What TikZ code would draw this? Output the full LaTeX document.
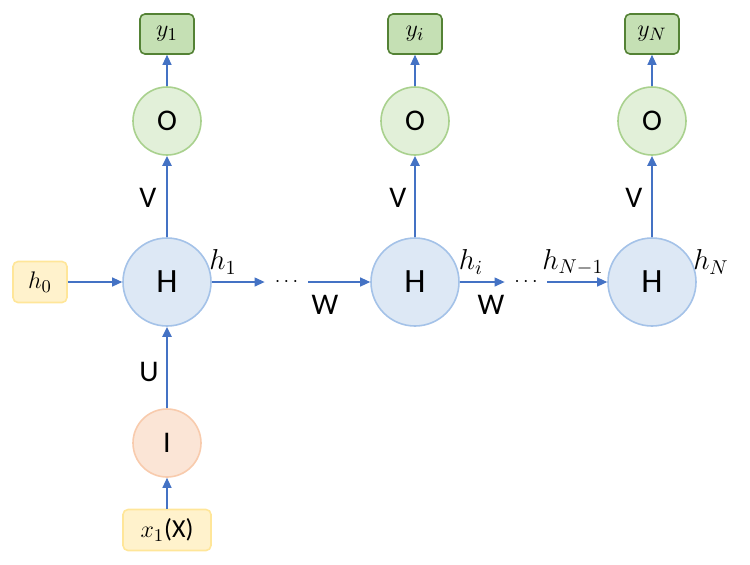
\documentclass[tikz,border=0pt]{standalone}
\usepackage{fontspec}
\setmainfont{Carlito}
\usetikzlibrary{arrows.meta}

\definecolor{hfill}{HTML}{DDE8F5}
\definecolor{hdraw}{HTML}{A4C2E8}
\definecolor{ofill}{HTML}{E2F0D9}
\definecolor{odraw}{HTML}{A9D18E}
\definecolor{yfill}{HTML}{C5E0B4}
\definecolor{ydraw}{HTML}{548235}
\definecolor{infill}{HTML}{FFF2CC}
\definecolor{indraw}{HTML}{FFE699}
\definecolor{ifill}{HTML}{FBE5D6}
\definecolor{idraw}{HTML}{F8CBAD}
\definecolor{arr}{HTML}{4472C4}

\begin{document}
\begin{tikzpicture}[x=0.5pt,y=-0.5pt,
    hid/.style={circle,draw=hdraw,fill=hfill,line width=0.8pt,minimum size=44pt,inner sep=0pt,font=\fontsize{17}{20}\selectfont},
    outc/.style={circle,draw=odraw,fill=ofill,line width=0.8pt,minimum size=34pt,inner sep=0pt,font=\fontsize{15}{18}\selectfont},
    inc/.style={circle,draw=idraw,fill=ifill,line width=0.8pt,minimum size=34pt,inner sep=0pt,font=\fontsize{15}{18}\selectfont},
    ybox/.style={rectangle,rounded corners=2.5pt,draw=ydraw,fill=yfill,line width=0.8pt,minimum width=27pt,minimum height=20pt,inner sep=0pt,font=\fontsize{13}{15}\selectfont},
    xbox/.style={rectangle,rounded corners=2.5pt,draw=indraw,fill=infill,line width=0.8pt,minimum height=20.5pt,inner sep=0pt,font=\fontsize{13}{15}\selectfont},
    wlabel/.style={font=\fontsize{15}{18}\selectfont,inner sep=0pt},
    hlabel/.style={font=\fontsize{14}{16}\selectfont,inner sep=0pt},
    dotsn/.style={minimum height=10pt,inner sep=0pt,font=\fontsize{10}{12}\selectfont},
    thinarr/.style={draw=arr,line width=0.6pt,-{Triangle[length=5pt,width=4.5pt]}},
    thickarr/.style={draw=arr,line width=1.1pt,-{Triangle[length=5pt,width=4.5pt]}}]
    \useasboundingbox (0,0) rectangle (750,564);
    % hidden states
    \node[hid] (H1) at (167,282) {H};
    \node[hid] (Hi) at (415,282) {H};
    \node[hid] (HN) at (652,282) {H};
    % outputs
    \node[outc] (O1) at (167,121) {O};
    \node[outc] (Oi) at (415,121) {O};
    \node[outc] (ON) at (652,121) {O};
    \node[ybox] (y1) at (167,34) {$y_1$};
    \node[ybox] (yi) at (415,34) {$y_i$};
    \node[ybox] (yN) at (652,34) {$y_N$};
    % input
    \node[inc] (I1) at (167,443) {I};
    \node[xbox,minimum width=44pt] (x1) at (167,530) {$x_1$(X)};
    \node[xbox,minimum width=27pt] (h0) at (40,282) {$h_0$};
    % dots
    \node[dotsn,minimum width=21.5pt] (d1) at (286.5,282) {$\cdots$};
    \node[dotsn,minimum width=21pt] (d2) at (526,282) {$\cdots$};
    % arrows
    \draw[thinarr] (h0) -- (H1);
    \draw[thinarr] (H1) -- (d1);
    \draw[thinarr] (d1) -- (Hi);
    \draw[thinarr] (Hi) -- (d2);
    \draw[thinarr] (d2) -- (HN);
    \draw[thickarr] (H1) -- (O1);
    \draw[thickarr] (Hi) -- (Oi);
    \draw[thickarr] (HN) -- (ON);
    \draw[thinarr] (O1) -- (y1);
    \draw[thinarr] (Oi) -- (yi);
    \draw[thinarr] (ON) -- (yN);
    \draw[thickarr] (I1) -- (H1);
    \draw[thinarr] (x1) -- (I1);
    % weight labels
    \node[wlabel] (V1) at (148,198) {V};
    \node[wlabel] (Vi) at (398,198) {V};
    \node[wlabel] (VN) at (634,198) {V};
    \node[wlabel] (U1) at (149,372) {U};
    \node[wlabel] (W1) at (325,305) {W};
    \node[wlabel] (W2) at (491,305) {W};
    % state labels
    \node[hlabel] (lh1) at (223,262) {$h_1$};
    \node[hlabel] (lhi) at (471,262) {$h_i$};
    \node[hlabel] (lhn1) at (573,262) {$h_{N-1}$};
    \node[hlabel] (lhN) at (711,262) {$h_N$};
\end{tikzpicture}
\end{document}
